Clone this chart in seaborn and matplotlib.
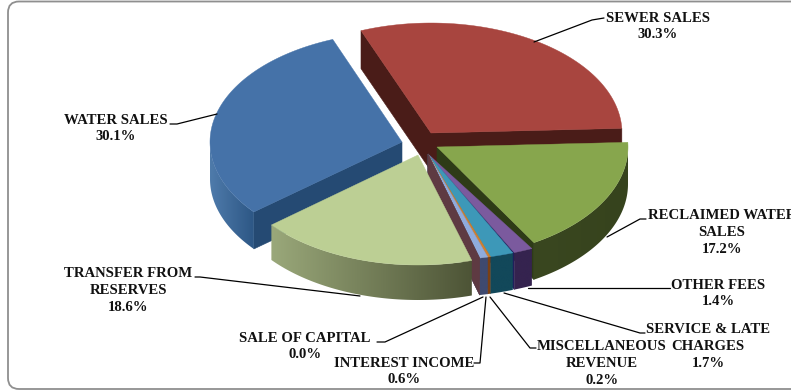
import numpy as np
import seaborn as sns
from matplotlib import pyplot as plt
from matplotlib.patches import FancyBboxPatch, Polygon
from matplotlib.colors import to_rgb

sns.set_theme(style="white")
plt.rcParams['font.family'] = ['Liberation Serif', 'DejaVu Serif']

# clockwise from the top, same order as the pie
categories = ["SEWER SALES", "RECLAIMED WATER\nSALES", "OTHER FEES", "SERVICE & LATE\nCHARGES",
              "MISCELLANEOUS\nREVENUE", "INTEREST INCOME", "SALE OF CAPITAL",
              "TRANSFER FROM\nRESERVES", "WATER SALES"]
shares = [30.3, 17.2, 1.4, 1.7, 0.2, 0.6, 0.0, 18.6, 30.1]

top_colors = sns.color_palette(["#a8453f", "#87a64d", "#7b5a9e", "#3d98b8", "#d0802f",
                                "#8fabdc", "#5e3a42", "#bccf94", "#4572a8"])
wall_left = ["#5a1f1b", "#3a4720", "#35234f", "#12485a", "#7a4015",
             "#3e4a70", "#5e3a42", "#9aa87a", "#4f7bab"]
wall_right = ["#5a1f1b", "#36431d", "#35234f", "#12485a", "#7a4015",
              "#3e4a70", "#5e3a42", "#4d5436", "#2d5785"]
side_colors = ["#4a1c18", "#2e3b17", "#1f1f5c", "#12485a", "#7a4015",
               "#3e4a70", "#5e3a42", "#4d5436", "#254a73"]

# per slice: centre x, centre y, radius x, radius y, depth
geometry = [(431, 133, 191, 110, 38), (437, 147, 191, 111, 37), (428, 154, 222, 107, 37),
            (428, 154, 222, 107, 37), (428, 154, 222, 107, 37), (428, 154, 222, 107, 37),
            (428, 154, 222, 107, 37), (418, 155, 190, 110, 35), (402, 142, 192, 110, 37)]
# small turn of each slice, the exploded pie is not a true ellipse
twist = [3, 3, 0.4, 0, 0, 0, 0, 3, 3]
draw_order = [0, 8, 1, 2, 3, 4, 5, 6, 7]
start_angle = 108.5

# label text position and leader line (x, y points)
label_pos = [(658, 26.5), (722, 232.5), (718, 293.5), (708, 346.5), (602, 363.5), (404, 371.5),
             (305, 346.5), (128, 290.5), (116, 128.5)]
leaders = [[(604, 18), (592, 20), (534, 42)],
           [(646, 219), (640, 219), (607, 237)],
           [(670, 288), (528, 288)],
           [(645, 333), (640, 333), (504, 293)],
           [(536, 348), (530, 348), (490, 297)],
           [(474, 363), (480, 363), (486, 297)],
           [(377, 342), (385, 342), (483, 297)],
           [(195, 277), (200, 277), (360, 296)],
           [(170, 124), (177, 124), (217, 114)]]

fig, ax = plt.subplots(figsize=(7.91, 3.9), dpi=100)
fig.subplots_adjust(0, 0, 1, 1)
ax.axis('off')

ax.add_patch(FancyBboxPatch((18, 11.5), 800, 367.5, boxstyle="round,pad=10,rounding_size=11",
                            fc="white", ec="#8f8f8f", lw=1.3, zorder=1))

bounds = start_angle - np.cumsum([0] + shares) * 3.6
layer = [2]


def next_z():
    layer[0] += 1
    return layer[0]


def arc_pt(g, deg):
    cx, cy, rx, ry, _ = g
    return cx + rx * np.cos(np.radians(deg)), cy - ry * np.sin(np.radians(deg))


def draw_slice(i):
    g = geometry[i]
    cx, cy, rx, ry, depth = g
    a1, a2 = bounds[i] + twist[i], bounds[i + 1] + twist[i]
    # radial faces, only the ones turned towards the viewer
    for a, normal in ((a1, a1 + 90), (a2, a2 - 90)):
        if np.sin(np.radians(normal)) < 0:
            x, y = arc_pt(g, a)
            ax.add_patch(Polygon([(cx, cy), (x, y), (x, y + depth), (cx, cy + depth)],
                                 fc=side_colors[i], ec=side_colors[i], lw=0.4, zorder=next_z()))
    # outer wall, only the arc on the near side, shaded from left to right
    angles = np.linspace(a1, a2, 90)
    angles = angles[np.sin(np.radians(angles)) < 0]
    if len(angles) > 1:
        arc = [arc_pt(g, a) for a in angles]
        wall = arc + [(x, y + depth) for x, y in arc[::-1]]
        xs = [p[0] for p in arc]
        ys = [p[1] for p in wall]
        c0, c1 = np.array(to_rgb(wall_left[i])), np.array(to_rgb(wall_right[i]))
        ramp = np.linspace(0, 1, 128)[None, :, None]
        z = next_z()
        clip = Polygon(wall, fc="none", ec="none", transform=ax.transData, zorder=z)
        ax.add_patch(clip)
        im = ax.imshow(c0 + (c1 - c0) * ramp, extent=[min(xs), max(xs), max(ys) + depth, min(ys) - depth],
                       aspect="auto", zorder=z, interpolation="bilinear")
        im.set_clip_path(clip)
    # top face
    pts = [(cx, cy)] + [arc_pt(g, a) for a in np.linspace(a1, a2, 90)]
    ax.add_patch(Polygon(pts, fc=top_colors[i], ec=top_colors[i], lw=0.3, zorder=next_z()))


for i in draw_order:
    draw_slice(i)

for i, name in enumerate(categories):
    x, y = label_pos[i]
    ax.text(x, y, name + "\n" + f"{shares[i]:.1f}%", ha="center", va="center", fontsize=10.6,
            fontweight="bold", color="#111111", linespacing=1.36, zorder=200)
    lx, ly = zip(*leaders[i])
    ax.plot(lx, ly, color="black", lw=0.9, zorder=190)

ax.set_xlim(0, 791)
ax.set_ylim(390, 0)
fig.savefig("out.png", dpi=100)
